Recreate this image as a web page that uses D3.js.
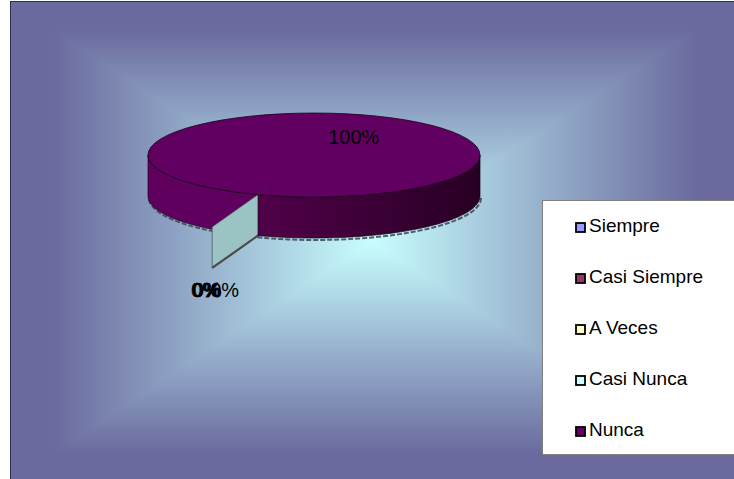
<!DOCTYPE html>
<html>
<head>
<meta charset="utf-8">
<script src="https://cdn.jsdelivr.net/npm/d3@7"></script>
<style>
  html, body { margin: 0; padding: 0; background: #fff; }
  svg { display: block; font-family: "Liberation Sans", Arial, sans-serif; }
</style>
</head>
<body>
<svg id="chart" width="734" height="479"></svg>
<script>
// Survey answers and their share of responses (percent)
const categories = ["Siempre", "Casi Siempre", "A Veces", "Casi Nunca", "Nunca"];
const values = [0, 0, 0, 0, 100];
const colors = ["#9999FF", "#993366", "#FFFFCC", "#CCFFFF", "#660066"];
// slices pulled out of the pie (fraction of the radius)
const explode = [0, 0, 0, 0.82, 0];

const W = 734, H = 479;
const svg = d3.select("#chart");

// ---- plot area with a rectangular "from centre" gradient ----
const plot = { x: 10, y: 1, w: 730, h: 482 };
const pc = [plot.x + plot.w / 2 - 3, plot.y + 240];
const edgeCol = "#6A6A9E", midCol = "#C8FEFF";
const defs = svg.append("defs");
svg.append("rect").attr("x", plot.x).attr("y", plot.y).attr("width", plot.w).attr("height", plot.h)
  .attr("fill", "#8fa3c2");
const sides = [
  { id: "gTop", x1: 0, y1: plot.y, x2: 0, y2: pc[1], pts: [[plot.x, plot.y], [plot.x + plot.w, plot.y], pc] },
  { id: "gBot", x1: 0, y1: plot.y + plot.h, x2: 0, y2: pc[1], pts: [[plot.x, plot.y + plot.h], [plot.x + plot.w, plot.y + plot.h], pc] },
  { id: "gLeft", x1: plot.x, y1: 0, x2: pc[0], y2: 0, pts: [[plot.x, plot.y], [plot.x, plot.y + plot.h], pc] },
  { id: "gRight", x1: plot.x + plot.w, y1: 0, x2: pc[0], y2: 0, pts: [[plot.x + plot.w, plot.y], [plot.x + plot.w, plot.y + plot.h], pc] }
];
sides.forEach(s => {
  const g = defs.append("linearGradient").attr("id", s.id)
    .attr("gradientUnits", "userSpaceOnUse")
    .attr("x1", s.x1).attr("y1", s.y1).attr("x2", s.x2).attr("y2", s.y2);
  g.append("stop").attr("offset", 0).attr("stop-color", edgeCol);
  g.append("stop").attr("offset", 0.12).attr("stop-color", edgeCol);
  g.append("stop").attr("offset", 1).attr("stop-color", midCol);
  svg.append("polygon")
    .attr("points", s.pts.map(p => p.join(",")).join(" "))
    .attr("fill", `url(#${s.id})`)
    .attr("shape-rendering", "crispEdges");
});
svg.append("line").attr("x1", plot.x + 0.5).attr("y1", plot.y).attr("x2", plot.x + 0.5).attr("y2", H)
  .attr("stroke", "#2f2f4f").attr("stroke-width", 1);
svg.append("line").attr("x1", plot.x).attr("y1", plot.y + 0.5).attr("x2", W).attr("y2", plot.y + 0.5)
  .attr("stroke", "#2f2f4f").attr("stroke-width", 1);

// ---- 3D pie ----
const cx = 314, cy = 155, rx = 166, ry = 42, depth = 41;
const startAngle = 199.7 * Math.PI / 180;
const pie = d3.pie().sort(null).value(d => d).startAngle(startAngle).endAngle(startAngle + 2 * Math.PI);
const arcs = pie(values);

// projected point of plan angle a (clockwise from the back) at radius factor k
const pt = (a, k = 1, dy = 0, ox = 0, oy = 0) => [ox + cx + k * rx * Math.sin(a), oy + cy - k * ry * Math.cos(a) + dy];

function wall(a1, a2, ox = 0, oy = 0) {
  const n = 60, top = [], bot = [];
  for (let i = 0; i <= n; i++) {
    const a = a1 + (a2 - a1) * i / n;
    top.push(pt(a, 1, 0, ox, oy));
    bot.push(pt(a, 1, depth, ox, oy));
  }
  return "M" + top.map(p => p.join(",")).join("L") + "L" + bot.reverse().map(p => p.join(",")).join("L") + "Z";
}
function bottomEdge(a1, a2) {
  const n = 60, pts = [];
  for (let i = 0; i <= n; i++) pts.push(pt(a1 + (a2 - a1) * i / n, 1, depth));
  return "M" + pts.map(p => p.join(",")).join("L");
}

const main = arcs[4];
const seam = main.startAngle; // where the full slice begins/ends (front-left)
const shade = d3.color(colors[4]);
const topCol = shade.darker(0.12).formatHex();

// drop shadow along the bottom rim
svg.append("path").attr("d", bottomEdge(Math.PI / 2, 3 * Math.PI / 2))
  .attr("transform", "translate(1,2)")
  .attr("fill", "none").attr("stroke", "#3c4450").attr("stroke-width", 2).attr("stroke-dasharray", "5,2")
  .attr("opacity", 0.85);

// left part of the side wall (seam -> left extreme)
svg.append("path").attr("d", wall(seam, 3 * Math.PI / 2))
  .attr("fill", shade.darker(0.2).formatHex()).attr("stroke", "#1a0018").attr("stroke-width", 0.7);

// exploded zero-size slice: only its radial face remains visible
arcs.forEach((d, i) => {
  if (!explode[i]) return;
  const a = d.startAngle, e = explode[i];
  const c0 = pt(a, e), r0 = pt(a, 1 + e);
  const quad = [c0, r0, [r0[0], r0[1] + depth], [c0[0], c0[1] + depth]];
  svg.append("polygon").attr("class", "face")
    .attr("points", quad.map(p => p.join(",")).join(" "))
    .attr("fill", d3.color(colors[i]).darker(0.75).formatHex())
    .attr("stroke", "#4c5a5a").attr("stroke-width", 0.8);
  svg.append("line")
    .attr("x1", r0[0]).attr("y1", r0[1] + depth).attr("x2", c0[0]).attr("y2", c0[1] + depth)
    .attr("stroke", "#4a4a4a").attr("stroke-width", 2.2);
});

// right part of the side wall, shaded darker toward the right
const wg = defs.append("linearGradient").attr("id", "wallGrad")
  .attr("gradientUnits", "userSpaceOnUse")
  .attr("x1", pt(seam)[0]).attr("y1", 0).attr("x2", cx + rx).attr("y2", 0);
wg.append("stop").attr("offset", 0).attr("stop-color", "#500049");
wg.append("stop").attr("offset", 1).attr("stop-color", "#280024");
svg.append("path").attr("d", wall(Math.PI / 2, seam))
  .attr("fill", "url(#wallGrad)").attr("stroke", "#140012").attr("stroke-width", 0.7);

// top face
svg.append("ellipse").attr("cx", cx).attr("cy", cy).attr("rx", rx).attr("ry", ry)
  .attr("fill", topCol).attr("stroke", "#1a0018").attr("stroke-width", 0.8);

// edge of the exploded face drawn over the top
arcs.forEach((d, i) => {
  if (!explode[i]) return;
  const c0 = pt(d.startAngle, explode[i]), r1 = pt(d.startAngle, 1);
  svg.append("line").attr("x1", c0[0]).attr("y1", c0[1]).attr("x2", r1[0] - 1).attr("y2", r1[1] + 1)
    .attr("stroke", "#333").attr("stroke-width", 0.8);
});

// ---- data labels ----
const total = d3.sum(values);
const fmt = v => Math.round(v / total * 100) + "%";
svg.append("text")
  .attr("x", cx + 0.71 * rx * Math.sin((main.startAngle + main.endAngle) / 2))
  .attr("y", cy - 0.46 * ry * Math.cos((main.startAngle + main.endAngle) / 2) + 7)
  .attr("text-anchor", "middle").attr("font-size", 20).attr("fill", "#000")
  .text(fmt(values[4]));

// zero-size slices share the same position; their labels pile up below the pulled-out face
const labelBase = pt(seam, 1 + explode[3], depth);
arcs.forEach((d, i) => {
  if (i === 4) return;
  const nudge = explode[i] ? 19 : i * 0.8;
  svg.append("text")
    .attr("x", labelBase[0] - 21 + nudge).attr("y", labelBase[1] + 29)
    .attr("font-size", 20).attr("fill", "#000")
    .attr("stroke", explode[i] ? "none" : "#000").attr("stroke-width", 0.5)
    .text(fmt(values[i]));
});

// ---- legend ----
const legend = svg.append("g");
legend.append("rect").attr("x", 542.5).attr("y", 200.5).attr("width", 200).attr("height", 254)
  .attr("fill", "#fff").attr("stroke", "#808080").attr("stroke-width", 1);
const ly = d3.scalePoint().domain(categories).range([232, 436]);
categories.forEach((c, i) => {
  legend.append("rect").attr("x", 576).attr("y", ly(c) - 9).attr("width", 9).attr("height", 9)
    .attr("fill", colors[i]).attr("stroke", "#000").attr("stroke-width", 1.8);
  legend.append("text").attr("x", 589).attr("y", ly(c)).attr("font-size", 19).attr("fill", "#000").text(c);
});
</script>
</body>
</html>
